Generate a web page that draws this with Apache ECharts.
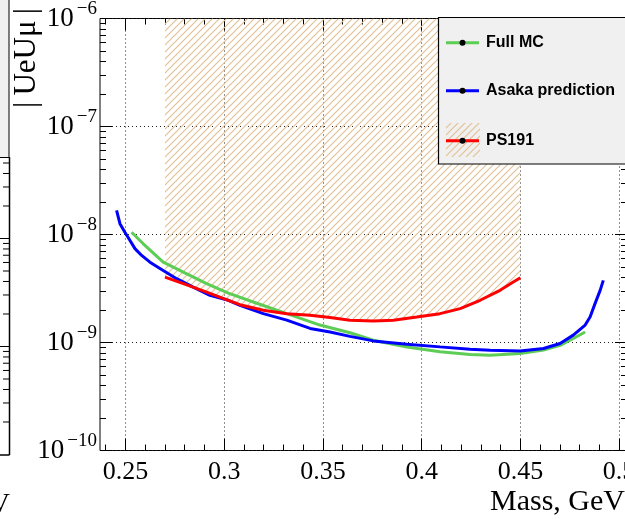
<!DOCTYPE html>
<html><head><meta charset="utf-8">
<script src="https://cdn.jsdelivr.net/npm/echarts@6/dist/echarts.min.js"></script>
<style>html,body{margin:0;padding:0;background:#fff;overflow:hidden;width:625px;height:519px}#c{width:660px;height:519px}</style>
</head><body><div id="c"></div>
<script>
// ---- data ----
const fullMcMass = [0.2531,0.2590,0.2691,0.2793,0.2911,0.3021,0.3147,0.3317,0.3485,0.3637,0.3755,0.3925,0.4093,0.4245,0.4347,0.4499,0.4617,0.4701,0.4768,0.4828];
const fullMcU    = [1.05e-8,8.2e-9,5.54e-9,4.49e-9,3.51e-9,2.87e-9,2.37e-9,1.85e-9,1.45e-9,1.23e-9,1.05e-9,9.1e-10,8.2e-10,7.75e-10,7.63e-10,7.9e-10,8.5e-10,9.4e-10,1.09e-9,1.25e-9];
const asakaMass  = [0.2455,0.2472,0.2497,0.2523,0.2548,0.2582,0.2624,0.2691,0.2759,0.2843,0.2928,0.3021,0.3080,0.3198,0.3317,0.3435,0.3536,0.3637,0.3755,0.3925,0.4093,0.4245,0.4347,0.4499,0.4617,0.4701,0.4768,0.4828,0.4853,0.4878,0.4904,0.4920];
const asakaU     = [1.67e-8,1.26e-8,1.05e-8,8.8e-9,7.4e-9,6.4e-9,5.54e-9,4.65e-9,3.9e-9,3.26e-9,2.73e-9,2.46e-9,2.21e-9,1.85e-9,1.61e-9,1.35e-9,1.25e-9,1.14e-9,1.035e-9,9.64e-10,9.11e-10,8.67e-10,8.49e-10,8.36e-10,8.8e-10,9.8e-10,1.17e-9,1.45e-9,1.72e-9,2.29e-9,3.04e-9,3.76e-9];
const ps191Mass  = [0.27,0.2793,0.2911,0.3021,0.3080,0.3198,0.3317,0.3435,0.3536,0.3637,0.3755,0.3857,0.3975,0.4093,0.4195,0.4296,0.4397,0.4464,0.45];
const ps191U     = [4.03e-9,3.51e-9,2.93e-9,2.46e-9,2.24e-9,1.99e-9,1.85e-9,1.79e-9,1.70e-9,1.61e-9,1.58e-9,1.61e-9,1.72e-9,1.85e-9,2.06e-9,2.46e-9,3.04e-9,3.63e-9,3.98e-9];

const xTickValues = [0.25,0.3,0.35,0.4,0.45,0.5];
const xTickLabels = ['0.25','0.3','0.35','0.4','0.45','0.5'];
const xMinorValues = [0.24,0.26,0.27,0.28,0.29,0.31,0.32,0.33,0.34,0.36,0.37,0.38,0.39,0.41,0.42,0.43,0.44,0.46,0.47,0.48,0.49];
const yTickValues = [1e-10,1e-9,1e-8,1e-7,1e-6];
const yTickExponents = ['\u221210','\u22129','\u22128','\u22127','\u22126'];
const legendLabels = ['Full MC','Asaka prediction','PS191'];
const xTitle = 'Mass, GeV';
const yTitle = '|\u2009UeUμ\u2009|';

const X_MIN = 0.2371, X_MAX = 0.504, Y_MIN = 1e-10, Y_MAX = 1e-6;
const COL_GREEN = '#5dcd55', COL_BLUE = '#0000ff', COL_RED = '#ff0000';
const SERIF = 'Liberation Serif';

// minor log ticks
const yMinorValues = [];
for (let d = 0; d < yTickValues.length - 1; d++) {
  for (let k = 2; k <= 9; k++) yMinorValues.push(k * yTickValues[d]);
}

// hatch pattern
function makeHatch() {
  const s = 7, c = document.createElement('canvas');
  c.width = s; c.height = s;
  const g = c.getContext('2d');
  g.strokeStyle = '#e2c196';
  g.lineWidth = 1.2;
  g.beginPath();
  g.moveTo(0, s); g.lineTo(s, 0);
  g.moveTo(-1, 1); g.lineTo(1, -1);
  g.moveTo(s - 1, s + 1); g.lineTo(s + 1, s - 1);
  g.stroke();
  return c;
}
const hatch = { image: makeHatch(), repeat: 'repeat' };

const pairs = (xs, ys) => xs.map((x, i) => [x, ys[i]]);

const chart = echarts.init(document.getElementById('c'), null, { renderer: 'canvas' });

function xAx(pos, vals, len, labels, split) {
  return {
    type: 'value', min: X_MIN, max: X_MAX, position: pos,
    axisLine: { show: false },
    axisTick: { show: true, inside: true, length: len, customValues: vals, lineStyle: { color: '#000', width: 1 } },
    axisLabel: labels ? {
      show: true, customValues: xTickValues, margin: 9,
      fontFamily: SERIF, fontSize: 26, color: '#000',
      formatter: v => { const i = xTickValues.findIndex(t => Math.abs(t - v) < 1e-9); return i >= 0 ? xTickLabels[i] : ''; }
    } : { show: false },
    splitLine: split ? { show: true, lineStyle: { color: '#222', width: 1, type: [1, 3] } } : { show: false },
    minorTick: { show: false }
  };
}
function yAx(pos, vals, len, labels, split) {
  return {
    type: 'log', logBase: 10, min: Y_MIN, max: Y_MAX, position: pos,
    axisLine: { show: false },
    axisTick: { show: true, inside: true, length: len, customValues: vals, lineStyle: { color: '#000', width: 1 } },
    axisLabel: labels ? {
      show: true, customValues: yTickValues, margin: 3,
      formatter: v => {
        const i = yTickValues.findIndex(t => Math.abs(Math.log10(t) - Math.log10(v)) < 1e-6);
        return i >= 0 ? '{b|10}{s|' + yTickExponents[i] + '}' : '';
      },
      rich: {
        b: { fontFamily: SERIF, fontSize: 27, color: '#000' },
        s: { fontFamily: SERIF, fontSize: 19, color: '#000', padding: [0, 0, 18, 3] }
      }
    } : { show: false },
    splitLine: split ? { show: true, lineStyle: { color: '#222', width: 1, type: [1, 3] } } : { show: false },
    minorTick: { show: false }
  };
}

const FS = 16, LX = 446, LW = 33, TX = 486;
const legendY = [42.7, 90.7, 140.7];
const legendCols = [COL_GREEN, COL_BLUE, COL_RED];
const legendGraphics = [
  { type: 'rect', shape: { x: 438.5, y: 17.5, width: 210, height: 146.5 },
    style: { fill: '#f0f0f0', stroke: '#000', lineWidth: 1.2 }, z: 100 },
  { type: 'rect', shape: { x: 446, y: 123, width: 34, height: 34 },
    style: { fill: hatch }, z: 101 }
];
legendLabels.forEach((t, i) => {
  legendGraphics.push({ type: 'line', shape: { x1: LX, y1: legendY[i], x2: LX + LW, y2: legendY[i] },
    style: { stroke: legendCols[i], lineWidth: 3 }, z: 102 });
  legendGraphics.push({ type: 'circle', shape: { cx: LX + LW / 2, cy: legendY[i], r: 3 },
    style: { fill: '#000' }, z: 103 });
  legendGraphics.push({ type: 'text', x: TX, y: legendY[i],
    style: { text: t, font: 'bold ' + FS + 'px "Liberation Sans"', fill: '#000', verticalAlign: 'middle', align: 'left' }, z: 103 });
});

const option = {
  animation: false,
  backgroundColor: '#fff',
  grid: { left: 100, top: 17.5, width: 527, height: 433, show: true, borderColor: '#000', borderWidth: 1, backgroundColor: 'transparent', containLabel: false },
  xAxis: [
    xAx('bottom', xTickValues, 12, true, true),
    xAx('bottom', xMinorValues, 6, false, false),
    xAx('top', xTickValues, 12, false, false),
    xAx('top', xMinorValues, 6, false, false)
  ],
  yAxis: [
    yAx('left', yTickValues, 12, true, true),
    yAx('left', yMinorValues, 6, false, false),
    yAx('right', yTickValues, 12, false, false),
    yAx('right', yMinorValues, 6, false, false)
  ],
  series: [
    { name: 'PS191 region', type: 'line', data: pairs(ps191Mass, ps191U), showSymbol: false, symbol: 'none',
      lineStyle: { width: 0, opacity: 0 }, areaStyle: { origin: 'end', color: hatch, opacity: 1 }, z: 1, silent: true },
    { name: legendLabels[0], type: 'line', data: pairs(fullMcMass, fullMcU), symbol: 'none',
      lineStyle: { color: COL_GREEN, width: 3 }, z: 3 },
    { name: legendLabels[1], type: 'line', data: pairs(asakaMass, asakaU), symbol: 'none',
      lineStyle: { color: COL_BLUE, width: 3 }, z: 4 },
    { name: legendLabels[2], type: 'line', data: pairs(ps191Mass, ps191U), symbol: 'none',
      lineStyle: { color: COL_RED, width: 3 }, z: 5 }
  ],
  graphic: []
};
chart.setOption(option);

// decorations: titles, legend box, edge of neighbouring pad
const g = legendGraphics.slice();
g.push({ type: 'text', x: 625, y: 502,
  style: { text: xTitle, font: '30px "' + SERIF + '"', fill: '#000', align: 'right', verticalAlign: 'middle' }, z: 50 });
g.push({ type: 'text', x: 27, y: 8, rotation: Math.PI / 2,
  style: { text: yTitle, font: '31px "' + SERIF + '"', fill: '#000', align: 'right', verticalAlign: 'middle' }, z: 50 });
// neighbouring pad edge
g.push({ type: 'rect', shape: { x: -5, y: -5, width: 14, height: 162.5 }, style: { fill: '#f0f0f0', stroke: '#000', lineWidth: 1 }, z: 40 });
g.push({ type: 'line', shape: { x1: 9.5, y1: 157, x2: 9.5, y2: 455 }, style: { stroke: '#000', lineWidth: 1.5 }, z: 40 });
g.push({ type: 'line', shape: { x1: 0, y1: 455, x2: 9.5, y2: 455 }, style: { stroke: '#000', lineWidth: 1.5 }, z: 40 });
yTickValues.concat(yMinorValues).forEach((v, i) => {
  const py = chart.convertToPixel({ yAxisIndex: 0 }, v) + 4;
  if (py < 160 || py > 454) return;
  const major = i < yTickValues.length;
  g.push({ type: 'line', shape: { x1: major ? 0 : 3, y1: py, x2: 9.5, y2: py }, style: { stroke: '#000', lineWidth: 1 }, z: 40 });
});
g.push({ type: 'text', x: 10, y: 505,
  style: { text: 'GeV', font: '28px "' + SERIF + '"', fill: '#000', align: 'right', verticalAlign: 'middle' }, z: 40 });

chart.setOption({ graphic: g });
</script>
</body></html>
